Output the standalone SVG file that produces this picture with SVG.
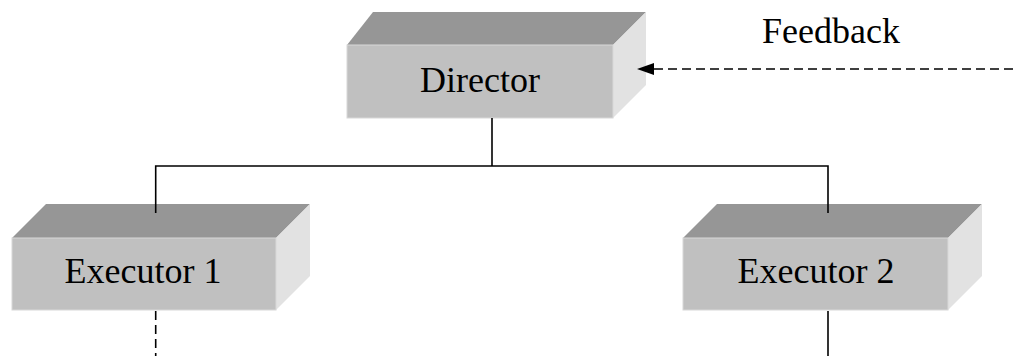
<svg xmlns="http://www.w3.org/2000/svg" width="1013" height="356" viewBox="0 0 1013 356">
<defs>
<style>
.top{fill:#969696}
.front{fill:#c0c0c0;stroke:#d8d8d8;stroke-width:1}
.side{fill:#e2e2e2}
.lbl{font-family:"Liberation Serif","Times New Roman",serif;font-size:36px;fill:#000;text-anchor:middle}
.ln{stroke:#000;stroke-width:1.6;fill:none}
.dash{stroke:#000;stroke-width:1.6;fill:none;stroke-dasharray:9 5}
.head{fill:#000}
</style>
</defs>
<rect width="1013" height="356" fill="#fff"/>
<g id="director">
<polygon class="top" points="347,45 373,12 646,12 613,45"/>
<polygon class="side" points="613,45 646,12 646,85 613,118"/>
<rect class="front" x="347" y="45" width="266" height="73"/>
<text class="lbl" x="480" y="92">Director</text>
</g>
<g id="executor1">
<polygon class="top" points="12,238 46,204 310,204 276,238"/>
<polygon class="side" points="276,238 310,204 310,276 276,310"/>
<rect class="front" x="12" y="238" width="264" height="72"/>
<text class="lbl" x="143" y="283">Executor 1</text>
</g>
<g id="executor2">
<polygon class="top" points="683,238 717,204 982,204 948,238"/>
<polygon class="side" points="948,238 982,204 982,276 948,310"/>
<rect class="front" x="683" y="238" width="265" height="72"/>
<text class="lbl" x="816" y="283">Executor 2</text>
</g>
<g id="feedback-label">
<text class="lbl" x="831" y="43">Feedback</text>
</g>
<g id="connectors">
<polyline class="ln" points="492,118 492,166"/>
<polyline class="ln" points="155.7,213 155.7,166 828,166 828,213"/>
<line class="dash" x1="155.7" y1="311" x2="155.7" y2="356"/>
<line class="ln" x1="828" y1="311" x2="828" y2="356"/>
<line class="dash" x1="1013" y1="69" x2="653" y2="69"/>
<polygon class="head" points="637,69 654,63 654,75"/>
</g>
</svg>
